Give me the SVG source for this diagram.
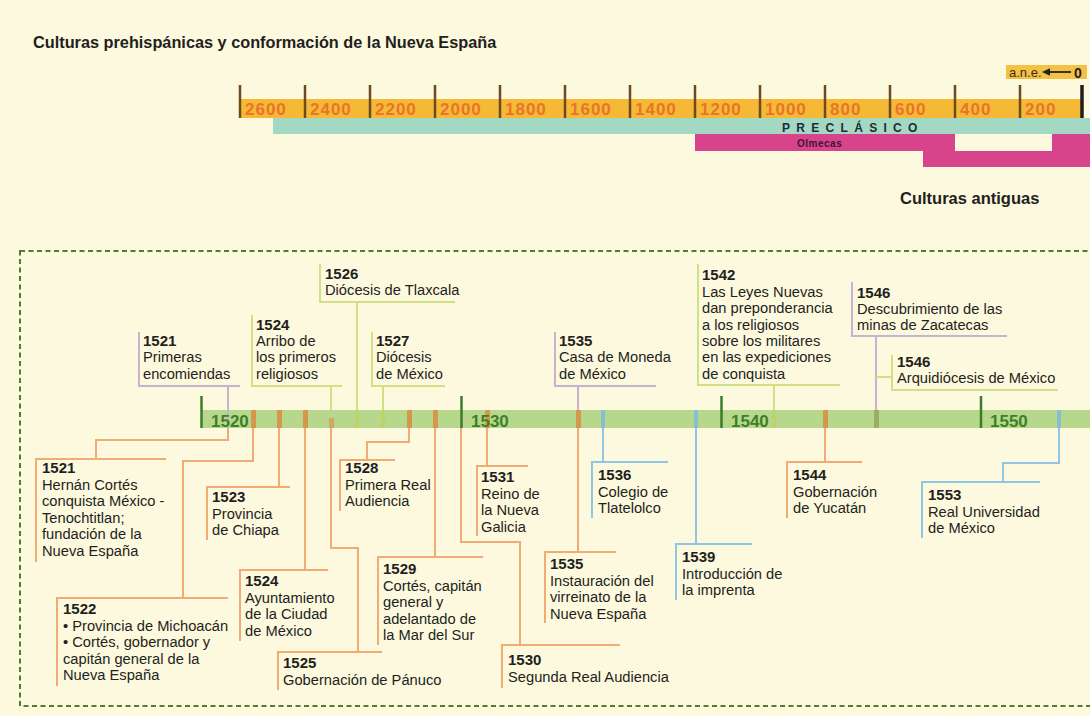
<svg xmlns="http://www.w3.org/2000/svg" width="1090" height="716" viewBox="0 0 1090 716">
<style>
text { font-family: "Liberation Sans", Arial, sans-serif; fill: #231f20; }
.t { font-size: 14.7px; }
.y { font-size: 15px; font-weight: bold; }
.title { font-size: 16.3px; font-weight: bold; }
.sc { font-size: 17px; font-weight: bold; fill: #e9742a; letter-spacing: 1px; }
.dec { font-size: 17px; font-weight: bold; fill: #3f7f2a; }
.ln { fill: none; stroke-width: 2; }
.o { stroke: #f2ab72; }
.b { stroke: #8ec6e4; }
.g { stroke: #cfe085; }
.p { stroke: #c4b4d2; }
.tk { stroke: #6e4a20; stroke-width: 2.5; }
.dk { stroke: #3d7b2b; stroke-width: 2.5; }
.mo { fill: #d6974c; }
.mb { fill: #86bfd2; }
.mg { fill: #bcd46a; }
</style>
<rect x="0" y="0" width="1090" height="716" fill="#fcf9de"/>

<text class="title" x="33" y="48">Culturas prehispánicas y conformación de la Nueva España</text>

<g id="escala-ane">
<rect x="1006" y="65" width="81" height="14" fill="#f3c244"/>
<text x="1009" y="76.5" style="font-size:13px;fill:#3b2f1a">a.n.e.</text>
<line x1="1048" y1="72" x2="1071" y2="72" stroke="#222" stroke-width="1.8"/>
<polygon points="1042,72 1050,68.3 1050,75.7" fill="#222"/>
<text x="1074" y="77.5" style="font-size:14px;font-weight:bold">0</text>
</g>

<g id="escala-culturas">
<rect x="240" y="99" width="842" height="19" fill="#f5b935"/>
<rect x="273" y="118" width="817" height="16" fill="#a3d9c3"/>
<rect x="695" y="134" width="260" height="17" fill="#d8448c"/>
<rect x="1052" y="134" width="38" height="17" fill="#d8448c"/>
<rect x="923" y="151" width="167" height="16" fill="#d8448c"/>
<g class="tk">
<line x1="240" y1="85" x2="240" y2="118"/>
<line x1="305" y1="85" x2="305" y2="118"/>
<line x1="370" y1="85" x2="370" y2="118"/>
<line x1="435" y1="85" x2="435" y2="118"/>
<line x1="500" y1="85" x2="500" y2="118"/>
<line x1="565" y1="85" x2="565" y2="118"/>
<line x1="630" y1="85" x2="630" y2="118"/>
<line x1="695" y1="85" x2="695" y2="118"/>
<line x1="760" y1="85" x2="760" y2="118"/>
<line x1="825" y1="85" x2="825" y2="118"/>
<line x1="890" y1="85" x2="890" y2="118"/>
<line x1="955" y1="85" x2="955" y2="118"/>
<line x1="1020" y1="85" x2="1020" y2="118"/>
</g>
<line x1="1082" y1="85" x2="1082" y2="118" stroke="#1e1e1e" stroke-width="3.5"/>
<text class="sc" x="245" y="115">2600</text>
<text class="sc" x="310" y="115">2400</text>
<text class="sc" x="375" y="115">2200</text>
<text class="sc" x="440" y="115">2000</text>
<text class="sc" x="505" y="115">1800</text>
<text class="sc" x="570" y="115">1600</text>
<text class="sc" x="635" y="115">1400</text>
<text class="sc" x="700" y="115">1200</text>
<text class="sc" x="765" y="115">1000</text>
<text class="sc" x="830" y="115">800</text>
<text class="sc" x="895" y="115">600</text>
<text class="sc" x="960" y="115">400</text>
<text class="sc" x="1025" y="115">200</text>
<text x="782" y="131.5" style="font-size:12px;font-weight:bold;letter-spacing:6.3px;fill:#1d2b3a">PRECLÁSICO</text>
<text x="797" y="147" style="font-size:10px;font-weight:bold;letter-spacing:0.5px;fill:#3b1636">Olmecas</text>
</g>

<text x="900" y="204" style="font-size:16.5px;font-weight:bold">Culturas antiguas</text>

<rect x="20" y="251" width="1090" height="455" fill="none" stroke="#4e7e2e" stroke-width="2" stroke-dasharray="5 3.5"/>

<g id="linea-tiempo">
<rect x="201" y="410" width="889" height="18" fill="#b7d78c"/>
<rect x="251" y="410" width="5" height="18" class="mo"/>
<rect x="277" y="410" width="5" height="18" class="mo"/>
<rect x="303" y="410" width="5" height="18" class="mo"/>
<rect x="329" y="418" width="5" height="10" class="mo" opacity="0.7"/>
<rect x="355" y="410" width="4" height="18" class="mg"/>
<rect x="381" y="410" width="4" height="18" class="mg"/>
<rect x="407" y="410" width="5" height="18" class="mo"/>
<rect x="433" y="410" width="5" height="18" class="mo"/>
<rect x="485" y="410" width="5" height="18" class="mo"/>
<rect x="576" y="410" width="5" height="18" class="mo"/>
<rect x="601" y="410" width="4" height="18" class="mb"/>
<rect x="694" y="410" width="4" height="18" class="mb"/>
<rect x="772" y="410" width="4" height="18" class="mg"/>
<rect x="823" y="410" width="5" height="18" class="mo"/>
<rect x="874" y="410" width="5" height="18" fill="#9aae6a"/>
<rect x="1057" y="410" width="4" height="18" class="mb"/>
<line x1="228" y1="410" x2="228" y2="428" stroke="#c4b4d2" stroke-width="2"/>
<line x1="201.5" y1="396" x2="201.5" y2="428" class="dk"/>
<line x1="461.5" y1="396" x2="461.5" y2="428" class="dk"/>
<line x1="721.5" y1="396" x2="721.5" y2="428" class="dk"/>
<line x1="981" y1="396" x2="981" y2="428" class="dk"/>
<text class="dec" x="211" y="427">1520</text>
<text class="dec" x="471" y="427">1530</text>
<text class="dec" x="731" y="427">1540</text>
<text class="dec" x="990" y="427">1550</text>
</g>

<g id="connectors" class="ln">
<path class="p" d="M228,386 V410"/>
<path class="g" d="M331,386 V410"/>
<path class="g" d="M357,302 V410"/>
<path class="g" d="M383,386 V410"/>
<path class="p" d="M578,386 V410"/>
<path class="g" d="M774,385 V410"/>
<path class="p" d="M876,336 V410"/>
<path class="g" d="M876,377 H892"/>
<path class="o" d="M228,428 V440 H96 V459"/>
<path class="o" d="M253,428 V461 H183 V598"/>
<path class="o" d="M279,428 V487"/>
<path class="o" d="M305,428 V570"/>
<path class="o" d="M331,428 V548 H358 V652"/>
<path class="o" d="M409,428 V442 H367 V460"/>
<path class="o" d="M435,428 V557"/>
<path class="o" d="M487,428 V466"/>
<path class="o" d="M461,428 V542 H520 V645"/>
<path class="o" d="M578,428 V552"/>
<path class="b" d="M603,428 V462"/>
<path class="b" d="M696,428 V544"/>
<path class="o" d="M825,428 V462"/>
<path class="b" d="M1059,428 V463 H1003 V482"/>
</g>

<g id="n1521a"><path class="ln p" d="M139,332 V386 H240"/>
<text class="y" x="143" y="346">1521</text>
<text class="t" x="143" y="362.4">Primeras</text>
<text class="t" x="143" y="378.8">encomiendas</text></g>

<g id="n1524a"><path class="ln g" d="M252,315 V386 H342"/>
<text class="y" x="256" y="329.6">1524</text>
<text class="t" x="256" y="346">Arribo de</text>
<text class="t" x="256" y="362.4">los primeros</text>
<text class="t" x="256" y="378.8">religiosos</text></g>

<g id="n1526"><path class="ln g" d="M320,264 V302 H455"/>
<text class="y" x="325" y="279">1526</text>
<text class="t" x="325" y="295.4">Diócesis de Tlaxcala</text></g>

<g id="n1527"><path class="ln g" d="M372,332 V386 H445"/>
<text class="y" x="376" y="346">1527</text>
<text class="t" x="376" y="362.4">Diócesis</text>
<text class="t" x="376" y="378.8">de México</text></g>

<g id="n1535a"><path class="ln p" d="M555,332 V386 H656"/>
<text class="y" x="559" y="346">1535</text>
<text class="t" x="559" y="362.4">Casa de Moneda</text>
<text class="t" x="559" y="378.8">de México</text></g>

<g id="n1542"><path class="ln g" d="M698,264 V385 H840"/>
<text class="y" x="702" y="280.4">1542</text>
<text class="t" x="702" y="296.8">Las Leyes Nuevas</text>
<text class="t" x="702" y="313.2">dan preponderancia</text>
<text class="t" x="702" y="329.6">a los religiosos</text>
<text class="t" x="702" y="346">sobre los militares</text>
<text class="t" x="702" y="362.4">en las expediciones</text>
<text class="t" x="702" y="378.8">de conquista</text></g>

<g id="n1546a"><path class="ln p" d="M852,282 V336 H1007"/>
<text class="y" x="857" y="297.5">1546</text>
<text class="t" x="857" y="313.9">Descubrimiento de las</text>
<text class="t" x="857" y="330.3">minas de Zacatecas</text></g>

<g id="n1546b"><path class="ln g" d="M892,355 V390 H1058"/>
<text class="y" x="897" y="367">1546</text>
<text class="t" x="897" y="383.4">Arquidiócesis de México</text></g>

<g id="n1521b"><path class="ln o" d="M166,459 H36 V562"/>
<text class="y" x="42" y="473">1521</text>
<text class="t" x="42" y="489.5">Hernán Cortés</text>
<text class="t" x="42" y="506">conquista México -</text>
<text class="t" x="42" y="522.5">Tenochtitlan;</text>
<text class="t" x="42" y="539">fundación de la</text>
<text class="t" x="42" y="555.5">Nueva España</text></g>

<g id="n1522"><path class="ln o" d="M228,598 H57 V686"/>
<text class="y" x="63" y="614">1522</text>
<text class="t" x="63" y="630.5">• Provincia de Michoacán</text>
<text class="t" x="63" y="647">• Cortés, gobernador y</text>
<text class="t" x="63" y="663.5">capitán general de la</text>
<text class="t" x="63" y="680">Nueva España</text></g>

<g id="n1523"><path class="ln o" d="M290,487 H207 V540"/>
<text class="y" x="212" y="502">1523</text>
<text class="t" x="212" y="518.5">Provincia</text>
<text class="t" x="212" y="535">de Chiapa</text></g>

<g id="n1524b"><path class="ln o" d="M328,570 H240 V641"/>
<text class="y" x="245" y="586">1524</text>
<text class="t" x="245" y="602.5">Ayuntamiento</text>
<text class="t" x="245" y="619">de la Ciudad</text>
<text class="t" x="245" y="635.5">de México</text></g>

<g id="n1525"><path class="ln o" d="M382,652 H278 V690"/>
<text class="y" x="283" y="668">1525</text>
<text class="t" x="283" y="684.5">Gobernación de Pánuco</text></g>

<g id="n1528"><path class="ln o" d="M395,460 H340 V511"/>
<text class="y" x="345" y="473">1528</text>
<text class="t" x="345" y="489.5">Primera Real</text>
<text class="t" x="345" y="506">Audiencia</text></g>

<g id="n1529"><path class="ln o" d="M483,557 H378 V645"/>
<text class="y" x="383" y="574">1529</text>
<text class="t" x="383" y="590.5">Cortés, capitán</text>
<text class="t" x="383" y="607">general y</text>
<text class="t" x="383" y="623.5">adelantado de</text>
<text class="t" x="383" y="640">la Mar del Sur</text></g>

<g id="n1531"><path class="ln o" d="M528,466 H477 V536"/>
<text class="y" x="481" y="482">1531</text>
<text class="t" x="481" y="498.5">Reino de</text>
<text class="t" x="481" y="515">la Nueva</text>
<text class="t" x="481" y="531.5">Galicia</text></g>

<g id="n1530"><path class="ln o" d="M620,645 H502 V688"/>
<text class="y" x="508" y="665">1530</text>
<text class="t" x="508" y="681.5">Segunda Real Audiencia</text></g>

<g id="n1535b"><path class="ln o" d="M616,552 H545 V623"/>
<text class="y" x="550" y="569">1535</text>
<text class="t" x="550" y="585.5">Instauración del</text>
<text class="t" x="550" y="602">virreinato de la</text>
<text class="t" x="550" y="618.5">Nueva España</text></g>

<g id="n1536"><path class="ln b" d="M668,462 H592 V518"/>
<text class="y" x="598" y="480">1536</text>
<text class="t" x="598" y="496.5">Colegio de</text>
<text class="t" x="598" y="513">Tlatelolco</text></g>

<g id="n1539"><path class="ln b" d="M752,544 H676 V600"/>
<text class="y" x="682" y="562">1539</text>
<text class="t" x="682" y="578.5">Introducción de</text>
<text class="t" x="682" y="595">la imprenta</text></g>

<g id="n1544"><path class="ln o" d="M862,462 H787 V518"/>
<text class="y" x="793" y="480">1544</text>
<text class="t" x="793" y="496.5">Gobernación</text>
<text class="t" x="793" y="513">de Yucatán</text></g>

<g id="n1553"><path class="ln b" d="M1040,482 H922 V538"/>
<text class="y" x="928" y="500">1553</text>
<text class="t" x="928" y="516.5">Real Universidad</text>
<text class="t" x="928" y="533">de México</text></g>
</svg>
